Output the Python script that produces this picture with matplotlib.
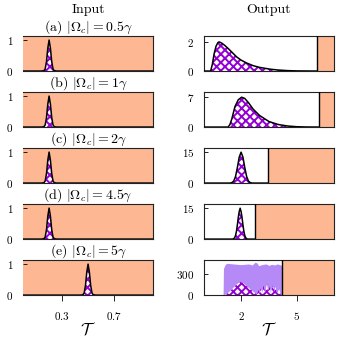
import matplotlib

matplotlib.use("Agg")

import matplotlib.pyplot as plt

plt.rcParams["font.family"] = "serif"
plt.rcParams["font.serif"] = ["cmr10"]
plt.rcParams["mathtext.fontset"] = "cm"
plt.rcParams["axes.formatter.use_mathtext"] = True
plt.rcParams["hatch.linewidth"] = 1.4

ORANGE = "#fdb893"
PURPLE = "#9400d3"
LAVENDER = "#b589f6"

# panel titles
titles = [
    r"(a) $|\Omega_c| = 0.5\gamma$",
    r"(b) $|\Omega_c| = 1\gamma$",
    r"(c) $|\Omega_c| = 2\gamma$",
    r"(d) $|\Omega_c| = 4.5\gamma$",
    r"(e) $|\Omega_c| = 5\gamma$",
]

# input pulses (same pulse for a-d, shifted one for e)
in_x = [0.0, 0.14, 0.16, 0.17, 0.18, 0.19, 0.20, 0.21, 0.22, 0.23, 0.24, 0.26, 1.0]
in_y = [0.0, 0.0, 0.01, 0.07, 0.31, 0.74, 1.0, 0.74, 0.31, 0.07, 0.01, 0.0, 0.0]
in_e_x = [0.0, 0.44, 0.46, 0.47, 0.48, 0.49, 0.50, 0.51, 0.52, 0.53, 0.54, 0.56, 1.0]
in_e_y = [0.0, 0.0, 0.01, 0.07, 0.31, 0.74, 1.0, 0.74, 0.31, 0.07, 0.01, 0.0, 0.0]

# output pulses
out_a_x = [0.0, 0.36, 0.45, 0.55, 0.65, 0.75, 0.82, 0.95, 1.1, 1.3, 1.5, 1.76, 2.0,
           2.3, 2.65, 3.0, 3.56, 4.0, 4.5, 5.0, 6.1]
out_a_y = [0, 0, 0.45, 1.2, 1.7, 1.95, 2.0, 1.92, 1.78, 1.55, 1.3, 0.97, 0.75,
           0.55, 0.37, 0.25, 0.13, 0.07, 0.03, 0.01, 0]
out_b_x = [0, 1.3, 1.4, 1.5, 1.67, 1.85, 2.03, 2.2, 2.4, 2.65, 3.0, 3.5, 4.0, 4.5,
           5.0, 5.5, 6.2]
out_b_y = [0, 0, 0.6, 1.9, 4.8, 6.4, 7.0, 6.7, 5.7, 4.2, 2.7, 1.3, 0.6, 0.25,
           0.08, 0.02, 0]
out_c_x = [0, 1.4, 1.5, 1.6, 1.7, 1.8, 1.9, 2.0, 2.1, 2.2, 2.3, 2.4, 2.5, 2.6, 3.45]
out_c_y = [0, 0, 0.2, 0.94, 3.15, 7.5, 12.6, 15, 12.6, 7.5, 3.15, 0.94, 0.2, 0, 0]
out_d_x = [0, 1.55, 1.6, 1.65, 1.7, 1.75, 1.8, 1.85, 1.9, 1.95, 2.0, 2.05, 2.1,
           2.15, 2.2, 2.25, 2.3, 2.35, 2.75]
out_d_y = [0, 0, 0.2, 0.65, 1.7, 3.8, 6.9, 10.6, 13.4, 15, 13.4, 10.6, 6.9,
           3.8, 1.7, 0.65, 0.2, 0, 0]

# (e): noisy envelope and hatched part
env_x = [1.03, 1.05, 1.15, 1.25, 1.4, 1.6, 1.8, 2.0, 2.2, 2.4, 2.6, 2.75, 2.85,
         2.95, 3.05, 3.2, 3.35, 3.5, 3.65, 3.8, 3.95, 4.1, 4.18, 4.2]
env_y = [0, 380, 440, 455, 450, 445, 440, 435, 440, 445, 430, 470, 460,
         420, 430, 440, 445, 425, 440, 430, 445, 435, 420, 0]
hat_x = [1.1, 1.25, 1.5, 1.75, 1.94, 2.1, 2.3, 2.5, 2.7, 2.85, 2.95, 3.0, 3.05,
         3.15, 3.2, 3.3, 3.4, 3.45, 3.55, 3.6, 3.7, 3.8, 3.85, 3.95, 4.05, 4.15]
hat_y = [0, 20, 80, 150, 190, 175, 130, 85, 40, 15, 80, 20, 110,
         30, 150, 40, 170, 60, 130, 30, 140, 50, 120, 20, 90, 0]

out_curves = [(out_a_x, out_a_y), (out_b_x, out_b_y), (out_c_x, out_c_y), (out_d_x, out_d_y)]
out_edges = [6.1, 6.2, 3.45, 2.75, 4.2]
out_yticks = [[0, 2], [0, 7], [0, 15], [0, 15], [0, 300]]
out_ytops = [2.4, 8.2, 17.0, 17.0, 500]


def style_axes(ax, last: bool) -> None:
    for spine in ax.spines.values():
        spine.set_linewidth(0.8)
        spine.set_color("#222222")
    ax.tick_params(axis="y", direction="in", length=3, width=0.6, pad=7, labelsize=8)
    if last:
        ax.tick_params(axis="x", direction="out", length=4, width=0.6, pad=7, labelsize=8)
    else:
        ax.tick_params(axis="x", bottom=False, labelbottom=False)


def hatched(ax, x, y, outline=True) -> None:
    ax.fill_between(x, 0, y, facecolor="white", edgecolor=PURPLE, hatch="xxxx",
                    linewidth=0, zorder=2)
    if outline:
        ax.plot(x, y, color="black", lw=1.1, zorder=3)


fig = plt.figure(figsize=(3.4, 3.4), dpi=100)
gs = fig.add_gridspec(5, 2, left=0.068, right=0.982, top=0.894, bottom=0.132,
                      hspace=0.6, wspace=0.392)

for i in range(5):
    last = i == 4
    # input column
    ax = fig.add_subplot(gs[i, 0])
    ax.set_facecolor(ORANGE)
    if last:
        hatched(ax, in_e_x, in_e_y)
    else:
        hatched(ax, in_x, in_y)
    ax.set_xlim(0, 1)
    ax.set_ylim(0, 1.13)
    ax.set_yticks([0, 1])
    ax.set_xticks([0.3, 0.7])
    ax.set_title(titles[i], fontsize=10, pad=2)
    style_axes(ax, last)
    ax.spines["left"].set_visible(False)
    if last:
        ax.set_xlabel(r"$\mathcal{T}$", fontsize=12, labelpad=-1)

    # output column
    ax = fig.add_subplot(gs[i, 1])
    ax.axvspan(out_edges[i], 7, color=ORANGE, lw=0, zorder=1)
    ax.axvline(out_edges[i], color="black", lw=1.0, zorder=4)
    if last:
        ax.fill_between(env_x, 0, env_y, color=LAVENDER, lw=0, zorder=1.5)
        hatched(ax, hat_x, hat_y, outline=False)
    else:
        hatched(ax, *out_curves[i])
    ax.set_xlim(0, 7)
    ax.set_ylim(0, out_ytops[i])
    ax.set_yticks(out_yticks[i])
    ax.set_xticks([2, 5])
    style_axes(ax, last)
    if last:
        ax.set_xlabel(r"$\mathcal{T}$", fontsize=12, labelpad=-1)

fig.text(0.259, 0.97, "Input", ha="center", va="center", fontsize=10)
fig.text(0.791, 0.97, "Output", ha="center", va="center", fontsize=10)

fig.savefig("out.png", dpi=100, facecolor="white")
plt.close(fig)
